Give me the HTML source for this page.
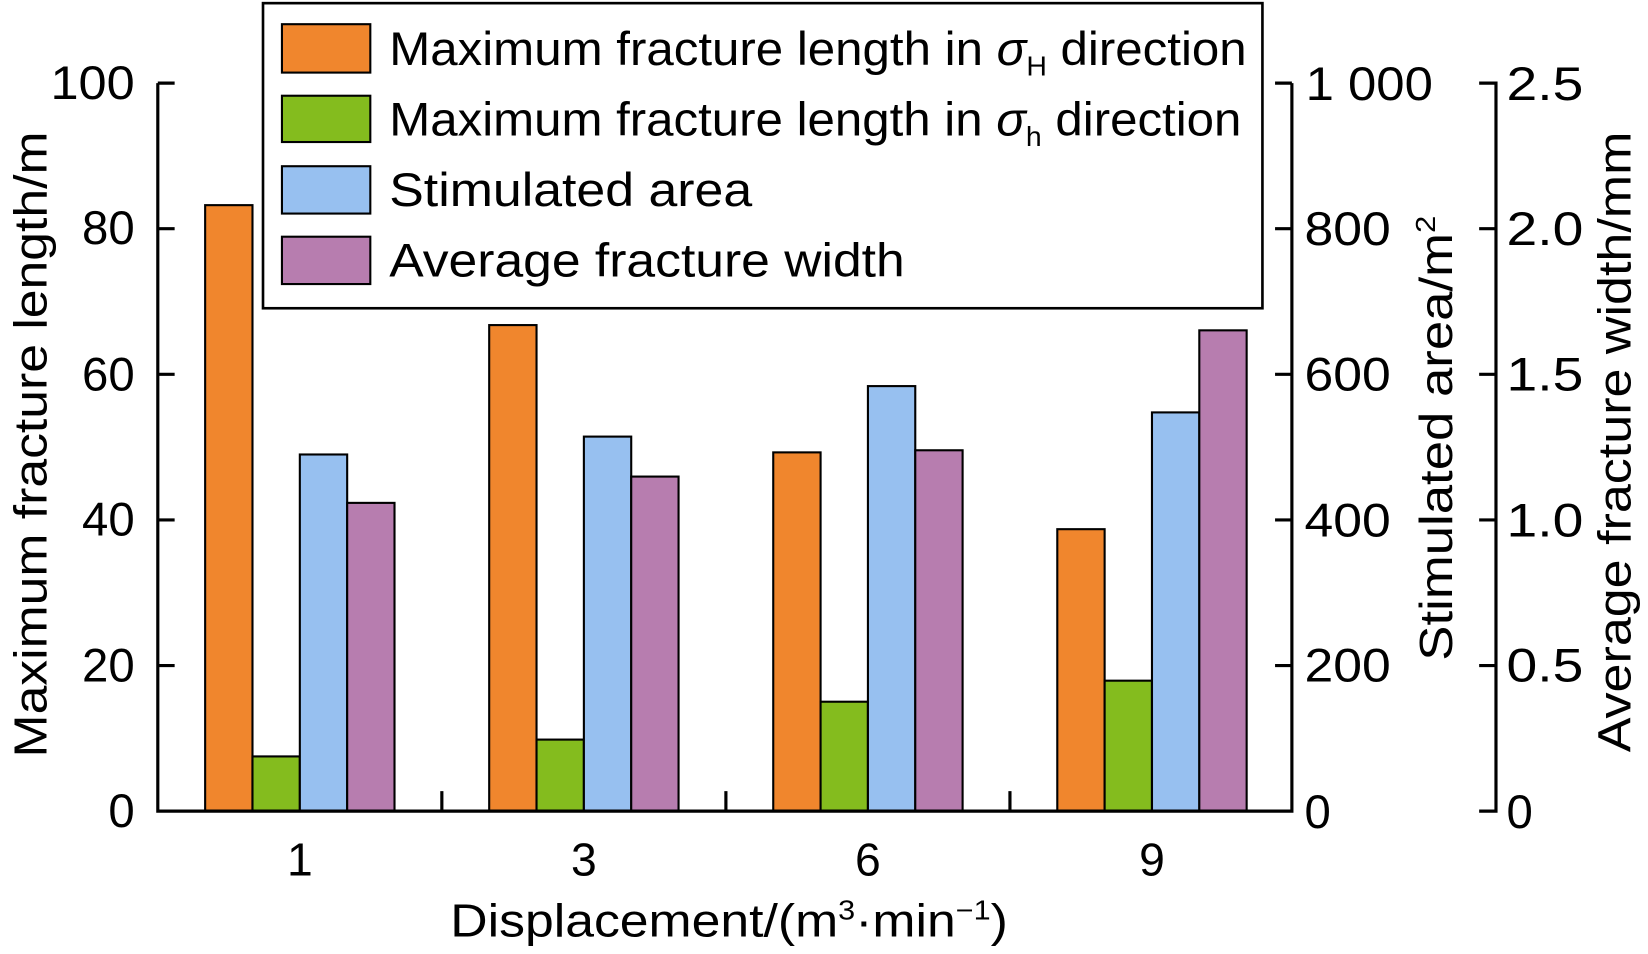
<!DOCTYPE html>
<html><head><meta charset="utf-8"><style>html,body{margin:0;padding:0;background:#fff}svg{display:block}</style></head>
<body>
<svg width="1648" height="954" viewBox="0 0 1566.5 906.8" preserveAspectRatio="none" xmlns="http://www.w3.org/2000/svg" font-family="'Liberation Sans', Arial, sans-serif">
<g stroke="#000" stroke-width="2">
<rect x="195" y="195" width="45" height="576" fill="#F0862D"/>
<rect x="240" y="719" width="45" height="52" fill="#84BC1E"/>
<rect x="285" y="432" width="45" height="339" fill="#97C0F0"/>
<rect x="330" y="478" width="45" height="293" fill="#B77DAF"/>
<rect x="465" y="309" width="45" height="462" fill="#F0862D"/>
<rect x="510" y="703" width="45" height="68" fill="#84BC1E"/>
<rect x="555" y="415" width="45" height="356" fill="#97C0F0"/>
<rect x="600" y="453" width="45" height="318" fill="#B77DAF"/>
<rect x="735" y="430" width="45" height="341" fill="#F0862D"/>
<rect x="780" y="667" width="45" height="104" fill="#84BC1E"/>
<rect x="825" y="367" width="45" height="404" fill="#97C0F0"/>
<rect x="870" y="428" width="45" height="343" fill="#B77DAF"/>
<rect x="1005" y="503" width="45" height="268" fill="#F0862D"/>
<rect x="1050" y="647" width="45" height="124" fill="#84BC1E"/>
<rect x="1095" y="392" width="45" height="379" fill="#97C0F0"/>
<rect x="1140" y="314" width="45" height="457" fill="#B77DAF"/>
</g>
<g stroke="#000" stroke-width="3" fill="none">
<path d="M150 79 V771 H1228 V79"/>
<path d="M150 79 H166 M150 217.4 H166 M150 355.8 H166 M150 494.2 H166 M150 632.6 H166"/>
<path d="M420 771 V752 M690 771 V752 M960 771 V752"/>
<path d="M1228 79 H1212 M1228 217.4 H1212 M1228 355.8 H1212 M1228 494.2 H1212 M1228 632.6 H1212"/>
<path d="M1406 79 H1422 V771 H1406 M1406 217.4 H1422 M1406 355.8 H1422 M1406 494.2 H1422 M1406 632.6 H1422"/>
</g>
<g font-size="45" text-anchor="end">
<text x="128" y="94" textLength="80" lengthAdjust="spacingAndGlyphs">100</text><text x="128" y="232">80</text><text x="128" y="371">60</text><text x="128" y="509">40</text><text x="128" y="648">20</text><text x="128" y="786">0</text>
</g>
<g font-size="45">
<text x="1241" y="95" textLength="121" lengthAdjust="spacingAndGlyphs">1 000</text><text x="1240" y="233" textLength="82" lengthAdjust="spacingAndGlyphs">800</text><text x="1240" y="371" textLength="82" lengthAdjust="spacingAndGlyphs">600</text><text x="1240" y="510" textLength="82" lengthAdjust="spacingAndGlyphs">400</text><text x="1240" y="648" textLength="82" lengthAdjust="spacingAndGlyphs">200</text><text x="1240" y="787">0</text>
<text x="1432" y="95" textLength="73" lengthAdjust="spacingAndGlyphs">2.5</text><text x="1432" y="233" textLength="73" lengthAdjust="spacingAndGlyphs">2.0</text><text x="1432" y="371" textLength="73" lengthAdjust="spacingAndGlyphs">1.5</text><text x="1432" y="510" textLength="73" lengthAdjust="spacingAndGlyphs">1.0</text><text x="1432" y="648" textLength="73" lengthAdjust="spacingAndGlyphs">0.5</text><text x="1432" y="787">0</text>
</g>
<g font-size="44" text-anchor="middle">
<text x="285" y="832">1</text><text x="555" y="832">3</text><text x="825" y="832">6</text><text x="1095" y="832">9</text>
</g>
<text x="428" y="890" font-size="44" textLength="530" lengthAdjust="spacingAndGlyphs">Displacement/(m<tspan font-size="26" dy="-16">3</tspan><tspan dy="16">·min</tspan><tspan font-size="26" dy="-16">−1</tspan><tspan dy="16">)</tspan></text>
<text transform="translate(44,720) rotate(-90)" font-size="44" textLength="595" lengthAdjust="spacingAndGlyphs">Maximum fracture length/m</text>
<text transform="translate(1380,628) rotate(-90)" font-size="44" textLength="423" lengthAdjust="spacingAndGlyphs">Stimulated area/m<tspan font-size="26" dy="-16">2</tspan></text>
<text transform="translate(1550,715) rotate(-90)" font-size="44" textLength="590" lengthAdjust="spacingAndGlyphs">Average fracture width/mm</text>
<rect x="250" y="3" width="950" height="290" fill="#fff" stroke="#000" stroke-width="2.5"/>
<g stroke="#000" stroke-width="2">
<rect x="268" y="23" width="84" height="46" fill="#F0862D"/>
<rect x="268" y="91" width="84" height="44" fill="#84BC1E"/>
<rect x="268" y="158" width="84" height="45" fill="#97C0F0"/>
<rect x="268" y="225" width="84" height="45" fill="#B77DAF"/>
</g>
<g font-size="45">
<text x="370" y="62" textLength="815" lengthAdjust="spacingAndGlyphs">Maximum fracture length in <tspan font-style="italic">σ</tspan><tspan font-size="26" dy="10">H</tspan><tspan dy="-10"> direction</tspan></text>
<text x="370" y="129" textLength="810" lengthAdjust="spacingAndGlyphs">Maximum fracture length in <tspan font-style="italic">σ</tspan><tspan font-size="26" dy="10">h</tspan><tspan dy="-10"> direction</tspan></text>
<text x="370" y="196" textLength="345" lengthAdjust="spacingAndGlyphs">Stimulated area</text>
<text x="370" y="263" textLength="490" lengthAdjust="spacingAndGlyphs">Average fracture width</text>
</g>
</svg>
</body></html>
